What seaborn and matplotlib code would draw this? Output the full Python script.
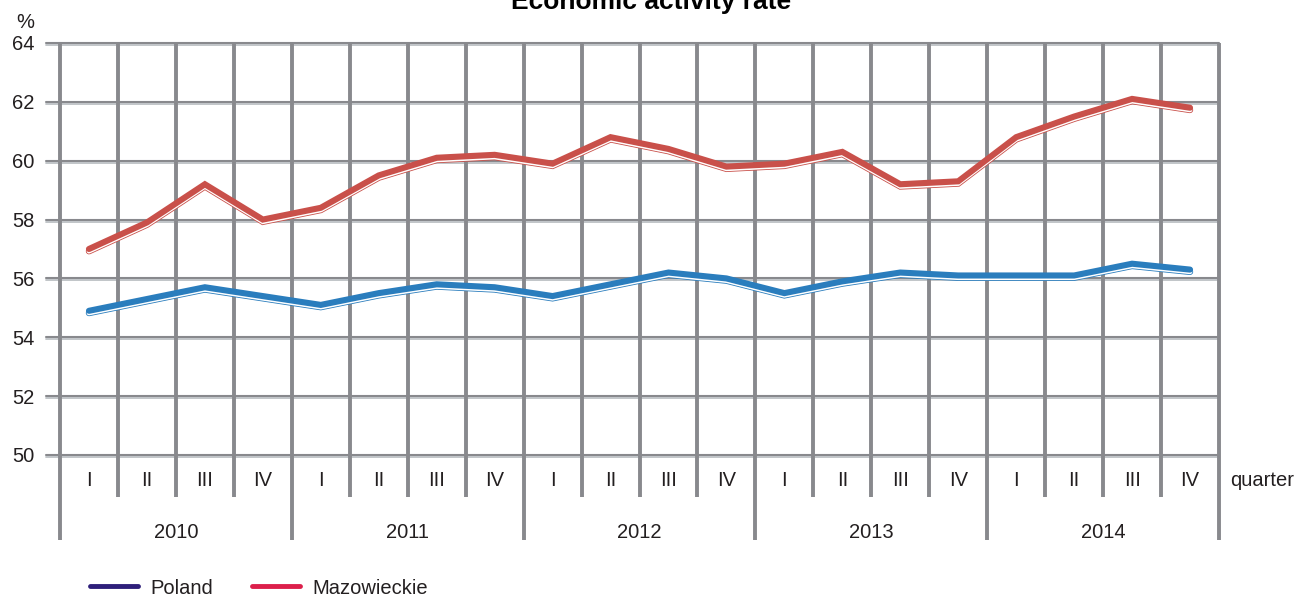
import matplotlib
matplotlib.use("Agg")
import matplotlib.pyplot as plt
import matplotlib.patheffects as pe
import matplotlib.transforms as mtransforms
from matplotlib.lines import Line2D
import numpy as np
import pandas as pd
import seaborn as sns

# Economic activity rate by quarter, 2010-2014 (%)
years = ["2010", "2011", "2012", "2013", "2014"]
quarters = ["I", "II", "III", "IV"]
poland = [54.9, 55.3, 55.7, 55.4,
          55.1, 55.5, 55.8, 55.7,
          55.4, 55.8, 56.2, 56.0,
          55.5, 55.9, 56.2, 56.1,
          56.1, 56.1, 56.5, 56.3]
mazowieckie = [57.0, 57.9, 59.2, 58.0,
               58.4, 59.5, 60.1, 60.2,
               59.9, 60.8, 60.4, 59.8,
               59.9, 60.3, 59.2, 59.3,
               60.8, 61.5, 62.1, 61.8]
series_names = ["Poland", "Mazowieckie"]
y_ticks = [50, 52, 54, 56, 58, 60, 62, 64]

line_colors = {"Poland": "#2a7dbd", "Mazowieckie": "#c9504a"}
legend_colors = {"Poland": "#2e1f7a", "Mazowieckie": "#dc1f4b"}
grid_dark = "#88898d"
grid_light = "#bcc0c4"
text_color = "#231f20"
fs = 14.5

n = len(years) * len(quarters)
idx = np.arange(n)
df = pd.DataFrame({
    "pos": np.concatenate([idx, idx]),
    "value": poland + mazowieckie,
    "series": [series_names[0]] * n + [series_names[1]] * n,
})

sns.set_theme(style="white")
plt.rcParams["font.family"] = ["Liberation Sans", "DejaVu Sans"]

W, H = 1295, 599
fig = plt.figure(figsize=(W / 100, H / 100), dpi=100)
x0, x1, y0, y1 = 60, 1219, 43, 455
ax = fig.add_axes([x0 / W, 1 - y1 / H, (x1 - x0) / W, (y1 - y0) / H])
ax.set_xlim(-0.5, n - 0.5)
ax.set_ylim(50, 64)
for s in ax.spines.values():
    s.set_visible(False)
ax.set_xticks([])
ax.set_yticks(y_ticks)
ax.set_yticklabels([str(t) for t in y_ticks], fontsize=fs, color=text_color)
ax.tick_params(axis="y", length=0, pad=18.5)

# horizontal gridlines (double rule), extended a little to the left
ht = mtransforms.blended_transform_factory(ax.transAxes, ax.transData)
ext = -14 / (x1 - x0)
for t in y_ticks:
    ax.add_line(Line2D([ext, 1], [t, t], transform=ht, color=grid_dark,
                       lw=1.5, clip_on=False, zorder=1))
    off = mtransforms.offset_copy(ht, fig=fig, x=0, y=-2, units="dots")
    ax.add_line(Line2D([ext, 1], [t, t], transform=off, color=grid_light,
                       lw=1.3, clip_on=False, zorder=1))

# vertical separators: quarters and years, running below the plot
vt = mtransforms.blended_transform_factory(ax.transData, ax.transAxes)
q_depth = -(497 - y1) / (y1 - y0)
y_depth = -(540 - y1) / (y1 - y0)
for k in range(n + 1):
    xb = k - 0.5
    bottom = y_depth if k % 4 == 0 else q_depth
    ax.add_line(Line2D([xb, xb], [bottom, 1], transform=vt, color=grid_dark,
                       lw=2.8, clip_on=False, zorder=1.5, solid_capstyle="butt"))

# category labels
for i in range(n):
    ax.text(i, -(480 - y1) / (y1 - y0), quarters[i % 4], transform=vt,
            ha="center", va="center", fontsize=fs, color=text_color)
for j, yr in enumerate(years):
    ax.text(j * 4 + 1.5, -(533 - y1) / (y1 - y0), yr, transform=vt,
            ha="center", va="center", fontsize=fs, color=text_color)
fig.text(1230 / W, 1 - 480 / H, "quarter", ha="left", va="center",
         fontsize=fs, color=text_color)
fig.text(25 / W, 1 - 22 / H, "%", ha="center", va="center",
         fontsize=fs, color=text_color)
fig.text(651 / W, 1 - 9 / H, "Economic activity rate", ha="center",
         va="baseline", fontsize=19, fontweight="bold", color="#000000")

# data lines with a thin offset rim underneath
for name in series_names:
    c = line_colors[name]
    sub = df[df["series"] == name]
    sns.lineplot(data=sub, x="pos", y="value", ax=ax, color=c, lw=4.4,
                 legend=False, zorder=3, solid_joinstyle="miter",
                 solid_capstyle="round",
                 path_effects=[
                     pe.Stroke(linewidth=4.6, foreground=c, offset=(0, -1.6)),
                     pe.Stroke(linewidth=3.4, foreground="white", offset=(0, -1.6)),
                     pe.Normal()])
ax.set_xlabel("")
ax.set_ylabel("")
ax.set_xlim(-0.5, n - 0.5)
ax.set_ylim(50, 64)

handles = [Line2D([], [], color=legend_colors[nm], lw=3.5, solid_capstyle="round")
           for nm in series_names]
fig.legend(handles, series_names, loc="center left",
           bbox_to_anchor=(72 / W, 1 - 588 / H), ncol=2, frameon=False,
           fontsize=fs, handlelength=2.4, handletextpad=0.6, columnspacing=1.9,
           labelcolor=text_color)

fig.savefig("out.png", dpi=100, facecolor="white")
